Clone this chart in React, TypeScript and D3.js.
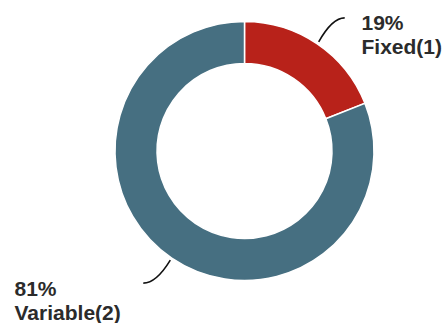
import React from "react";
import * as d3 from "d3";

const categories = ["Fixed(1)", "Variable(2)"];
const values = [19, 81];
const percentLabels = ["19%", "81%"];
const colors = ["#B8221A", "#466F81"];

const W = 442;
const H = 323;
const cx = 244.5;
const cy = 151;
const outerR = 129.5;
const innerR = 87.5;

// label layout: connector offsets and text anchors
const connectorOffsets = [
  { dx: 26, dy: -24 },
  { dx: -27, dy: 23 },
];
const textPos = [
  { x: 361.5, y: 29.5 },
  { x: 14.5, y: 295.5 },
];

export default function App() {
  const pie = d3
    .pie<number>()
    .sort(null)
    .value((d) => d);
  const arcs = pie(values);
  const arcGen = d3
    .arc<d3.PieArcDatum<number>>()
    .innerRadius(innerR)
    .outerRadius(outerR);

  return (
    <svg
      width={W}
      height={H}
      style={{ position: "absolute", left: 0, top: 0, background: "#fff" }}
      fontFamily="'Liberation Sans', Arial, sans-serif"
    >
      <g transform={`translate(${cx},${cy})`}>
        {arcs.map((a, i) => (
          <path
            key={i}
            d={arcGen(a) || ""}
            fill={colors[i]}
            stroke="#fff"
            strokeWidth={1.5}
          />
        ))}
      </g>
      {arcs.map((a, i) => {
        const mid = (a.startAngle + a.endAngle) / 2;
        const r = outerR + 2.5;
        const sx = cx + r * Math.sin(mid);
        const sy = cy - r * Math.cos(mid);
        const { dx, dy } = connectorOffsets[i];
        const ex = sx + dx;
        const ey = sy + dy;
        const qx = sx + dx * 0.52;
        const qy = ey;
        const path = d3.path();
        path.moveTo(sx, sy);
        path.quadraticCurveTo(qx, qy, ex, ey);
        const t = textPos[i];
        return (
          <g key={i}>
            <path
              d={path.toString()}
              fill="none"
              stroke="#111"
              strokeWidth={1.6}
            />
            <text
              x={t.x}
              y={t.y}
              fontSize={21}
              fontWeight="bold"
              fill="#2b2b2b"
            >
              <tspan x={t.x} y={t.y}>
                {percentLabels[i]}
              </tspan>
              <tspan x={t.x} y={t.y + 24.5}>
                {categories[i]}
              </tspan>
            </text>
          </g>
        );
      })}
    </svg>
  );
}
